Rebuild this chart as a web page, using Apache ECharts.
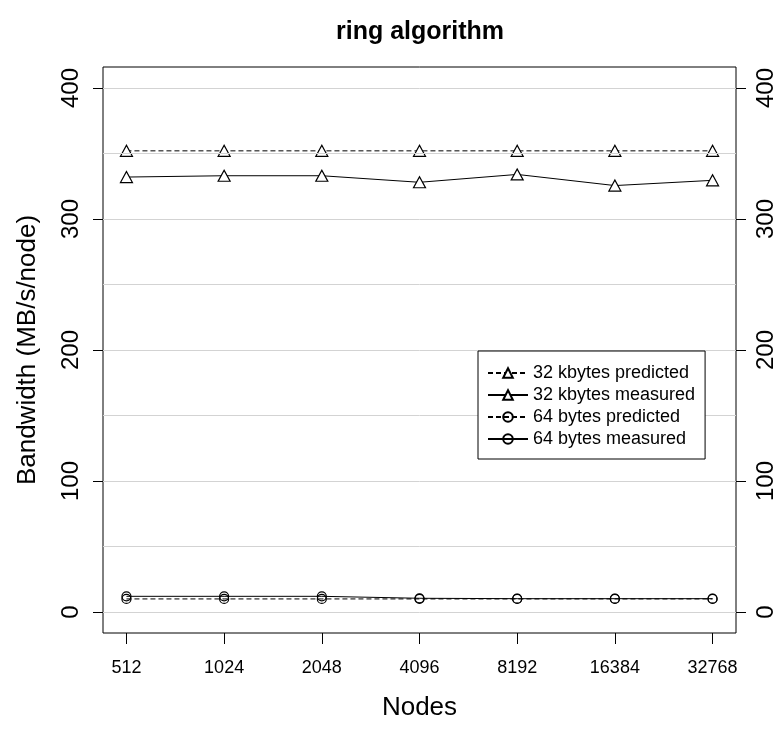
<!DOCTYPE html>
<html>
<head>
<meta charset="utf-8">
<script src="https://cdn.jsdelivr.net/npm/echarts@6/dist/echarts.min.js"></script>
<style>
  html, body { margin: 0; padding: 0; background: #fff; }
  #chart { width: 783px; height: 729px; }
</style>
</head>
<body>
<div id="chart"></div>
<script>
// Node counts along the x axis (plotted at evenly spaced positions)
const nodes = ['512', '1024', '2048', '4096', '8192', '16384', '32768'];

// Bandwidth per node, MB/s
const kb32Predicted = [352, 352, 352, 352, 352, 352, 352];
const kb32Measured  = [332, 333, 333, 328, 334, 325.5, 329.5];
const b64Predicted  = [10, 10, 10, 10, 10, 10, 10];
const b64Measured   = [12, 12, 12, 10.5, 10.2, 10.2, 10.2];

// Axis ticks and background reference lines
const yTicks = [0, 100, 200, 300, 400];
const gridLevels = [0, 50, 100, 150, 200, 250, 300, 350, 400];

const FONT = "'Liberation Sans', Arial, Helvetica, sans-serif";

const toPoints = vals => vals.map((v, i) => [i, v]);

const chart = echarts.init(document.getElementById('chart'), null, { renderer: 'canvas' });

const yAxisBase = (position, margin) => ({
  type: 'value',
  position: position,
  min: -16,
  max: 416,
  axisLine: { show: false, onZero: false },
  axisTick: { show: true, length: 10, customValues: yTicks, lineStyle: { color: '#000', width: 1 } },
  axisLabel: {
    customValues: yTicks,
    rotate: 90,
    margin: margin,
    fontFamily: FONT,
    fontSize: 24,
    color: '#000'
  },
  splitLine: { show: false }
});

const option = {
  backgroundColor: '#fff',
  animation: false,
  title: {
    text: 'ring algorithm',
    left: 415,
    top: 15,
    textAlign: 'center',
    textStyle: { fontFamily: FONT, fontSize: 25, fontWeight: 'bold', color: '#000' }
  },
  grid: {
    left: 103, right: 47, top: 67, bottom: 96,
    show: true, borderColor: '#000', borderWidth: 1, backgroundColor: 'transparent'
  },
  legend: {
    orient: 'vertical',
    left: 478,
    top: 351,
    z: 20,
    padding: [13, 10, 11, 9],
    itemWidth: 40,
    itemHeight: 12,
    itemGap: 4,
    borderColor: '#000',
    borderWidth: 1,
    backgroundColor: '#fff',
    textStyle: { fontFamily: FONT, fontSize: 18, color: '#000' },
    data: ['32 kbytes predicted', '32 kbytes measured', '64 bytes predicted', '64 bytes measured']
  },
  xAxis: {
    type: 'value',
    min: -0.24,
    max: 6.24,
    name: 'Nodes',
    nameLocation: 'middle',
    nameGap: 62,
    nameTextStyle: { fontFamily: FONT, fontSize: 26, color: '#000' },
    axisLine: { show: false, onZero: false },
    axisTick: { show: true, length: 11, customValues: [0, 1, 2, 3, 4, 5, 6], lineStyle: { color: '#000' } },
    axisLabel: {
      customValues: [0, 1, 2, 3, 4, 5, 6],
      formatter: v => nodes[Math.round(v)],
      margin: 26,
      fontFamily: FONT,
      fontSize: 18,
      color: '#000'
    },
    splitLine: { show: false }
  },
  yAxis: [
    Object.assign(yAxisBase('left', 20), {
      name: 'Bandwidth (MB/s/node)',
      nameLocation: 'middle',
      nameGap: 62,
      nameRotate: 90,
      nameTextStyle: { fontFamily: FONT, fontSize: 26, color: '#000' }
    }),
    yAxisBase('right', 18)
  ],
  series: [
    {
      // light horizontal reference lines behind the data
      type: 'line',
      name: 'levels',
      data: [],
      z: 1,
      silent: true,
      markLine: {
        silent: true,
        symbol: 'none',
        label: { show: false },
        lineStyle: { color: '#d3d3d3', type: 'solid', width: 1 },
        data: gridLevels.map(v => ({ yAxis: v }))
      }
    },
    {
      name: '32 kbytes predicted',
      type: 'line',
      data: toPoints(kb32Predicted),
      z: 3,
      symbol: 'triangle',
      symbolSize: [12, 11],
      lineStyle: { color: '#000', width: 1, type: [5, 3] },
      itemStyle: { color: '#fff', borderColor: '#000', borderWidth: 1.2 }
    },
    {
      name: '32 kbytes measured',
      type: 'line',
      data: toPoints(kb32Measured),
      z: 3,
      symbol: 'triangle',
      symbolSize: [12, 11],
      lineStyle: { color: '#000', width: 1 },
      itemStyle: { color: '#fff', borderColor: '#000', borderWidth: 1.2 }
    },
    {
      name: '64 bytes predicted',
      type: 'line',
      data: toPoints(b64Predicted),
      z: 3,
      symbol: 'circle',
      symbolSize: 9,
      lineStyle: { color: '#000', width: 1, type: [5, 3] },
      itemStyle: { color: 'rgba(255,255,255,0)', borderColor: '#000', borderWidth: 1.2 }
    },
    {
      name: '64 bytes measured',
      type: 'line',
      data: toPoints(b64Measured),
      z: 3,
      symbol: 'circle',
      symbolSize: 9,
      lineStyle: { color: '#000', width: 1 },
      itemStyle: { color: 'rgba(255,255,255,0)', borderColor: '#000', borderWidth: 1.2 }
    }
  ]
};

chart.setOption(option);
</script>
</body>
</html>
